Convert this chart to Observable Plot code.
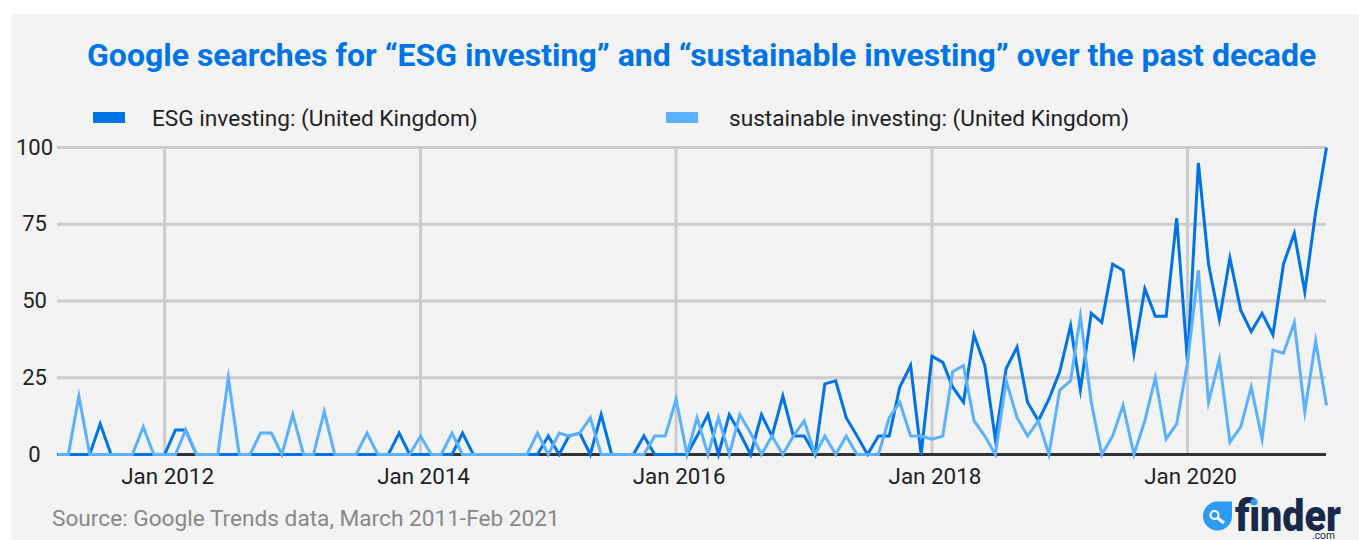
<!DOCTYPE html>
<html><head><meta charset="utf-8">
<script src="https://cdn.jsdelivr.net/npm/d3@7"></script>
<script src="https://cdn.jsdelivr.net/npm/@observablehq/plot@0.6"></script>
<style>
html,body{margin:0;padding:0;background:#fff;overflow:hidden}
body{width:1359px;height:540px;position:relative;font-family:Roboto,sans-serif}
#panel{position:absolute;left:11px;top:14px;right:0;bottom:0;background:#f3f3f3}
#title{position:absolute;left:87px;top:37px;font-size:32px;font-weight:700;color:#0073e6;white-space:nowrap;line-height:36px;margin:0}
.lg{position:absolute;top:105px;font-size:22.65px;line-height:28px;color:#222;white-space:nowrap}
.sw{position:absolute;top:112px;width:32px;height:11px}
#chart{position:absolute;left:0;top:130px}
#source{position:absolute;left:52px;top:505px;font-size:22.65px;line-height:28px;color:#888;white-space:nowrap}
#logo{position:absolute;left:1195px;top:490px}
</style></head>
<body>
<div id="panel"></div>
<h1 id="title">Google searches for “ESG investing” and “sustainable investing” over the past decade</h1>
<div class="sw" style="left:93px;background:#0073e6"></div>
<div class="lg" style="left:152px">ESG investing: (United Kingdom)</div>
<div class="sw" style="left:666px;background:#5cb1ff"></div>
<div class="lg" style="left:729px">sustainable investing: (United Kingdom)</div>
<div id="chart"></div>
<div id="source">Source: Google Trends data, March 2011-Feb 2021</div>
<svg id="logo" width="164" height="50" viewBox="1195 490 164 50">
  <path d="M1232 501.5 V516 A14.5 14.5 0 1 1 1217.5 501.5 Z" fill="#2b9bf4"/>
  <circle cx="1214.5" cy="515" r="4" fill="none" stroke="#fff" stroke-width="2.2"/>
  <line x1="1217.5" y1="518" x2="1224" y2="523" stroke="#fff" stroke-width="3"/>
  <text x="1235" y="530.5" font-family="Roboto" font-weight="900" font-size="44" fill="#16294a" textLength="106" lengthAdjust="spacingAndGlyphs">finder</text>
  <circle cx="1254" cy="502" r="3.6" fill="#2b9bf4"/>
  <text x="1312" y="538.5" font-family="Roboto" font-size="10" fill="#16294a" textLength="23" lengthAdjust="spacingAndGlyphs">.com</text>
</svg>
<script>
const firstMonth = new Date(Date.UTC(2011, 2, 1));
const esgInvesting = [
0,0,0,0,10,0,0,0,0,0, 0,8,8,0,0,0,0,0,0,0,
0,0,0,0,0,0,0,0,0,0, 0,0,7,0,0,0,0,0,7,0,
0,0,0,0,0,0,6,0,6,7, 0,13,0,0,0,6,0,0,0,0,
6,13,0,13,7,0,13,6,19,6, 6,0,23,24,12,6,0,6,6,22,
29,0,32,30,22,17,39,29,5,28, 35,17,11,18,27,42,21,46,43,62,
60,33,54,45,45,77,30,95,62,44, 64,47,40,46,39,62,72,53,79,100];
const sustainableInvesting = [
0,0,19,0,0,0,0,0,9,0, 0,0,8,0,0,0,25,0,0,7,
7,0,13,0,0,14,0,0,0,7, 0,0,0,0,6,0,0,7,0,0,
0,0,0,0,0,7,0,7,6,7, 12,0,0,0,0,0,6,6,18,0,
12,0,12,0,13,7,0,6,0,6, 11,0,6,0,6,0,0,0,12,17,
6,6,5,6,27,29,11,6,0,24, 12,6,11,0,21,24,45,17,0,6,
16,0,11,25,5,10,30,60,17,31, 4,9,22,5,34,33,43,14,37,16];
const gridYears = [2012, 2014, 2016, 2018, 2020];
const yTicks = [0, 25, 50, 75, 100];

const monthAt = i => new Date(Date.UTC(firstMonth.getUTCFullYear(), firstMonth.getUTCMonth() + i, 1));
const toRows = vals => vals.map((v, i) => ({date: monthAt(i), value: v}));
const gridDates = gridYears.map(y => new Date(Date.UTC(y, 0, 1)));

const chart = Plot.plot({
  width: 1359, height: 370,
  marginLeft: 57, marginRight: 33, marginTop: 17, marginBottom: 46,
  style: {background: "transparent", fontFamily: "Roboto", overflow: "visible"},
  x: {type: "utc", domain: [firstMonth, monthAt(119)]},
  y: {domain: [0, 100]},
  marks: [
    Plot.ruleX(gridDates, {stroke: "#cccccc", strokeWidth: 3}),
    Plot.ruleY(yTicks.slice(1), {stroke: "#cccccc", strokeWidth: 3}),
    Plot.ruleY([0], {stroke: "#333333", strokeWidth: 3}),
    Plot.line(toRows(esgInvesting), {x: "date", y: "value", stroke: "#0073e6", strokeWidth: 3, strokeLinejoin: "miter", strokeLinecap: "butt", strokeMiterlimit: 8}),
    Plot.line(toRows(sustainableInvesting), {x: "date", y: "value", stroke: "#5cb1ff", strokeWidth: 3, strokeLinejoin: "miter", strokeLinecap: "butt", strokeMiterlimit: 8}),
    Plot.axisY({ticks: yTicks, tickSize: 0, label: null, fontSize: 22, fill: "#222", textAnchor: "middle", tickPadding: 0, dx: -23}),
    Plot.axisX({ticks: gridDates, tickSize: 0, label: null, fontSize: 22.4, fill: "#222", tickPadding: 14, dx: 3, tickFormat: d => "Jan " + d.getUTCFullYear()})
  ]
});
document.getElementById("chart").appendChild(chart);
</script>
</body></html>
